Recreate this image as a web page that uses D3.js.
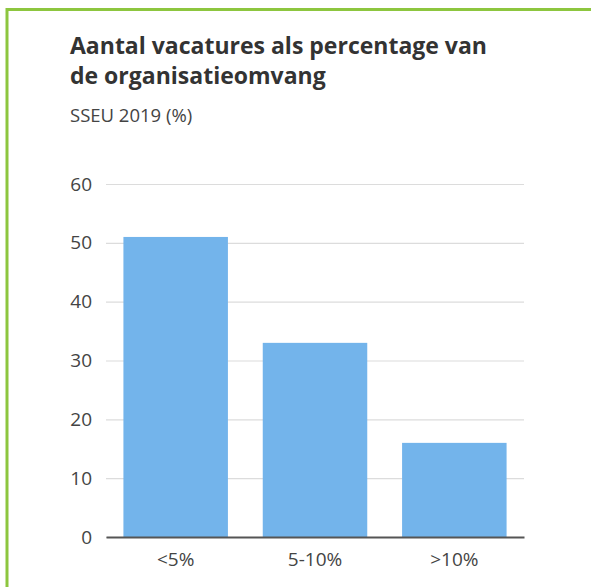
<!DOCTYPE html>
<html>
<head>
<meta charset="utf-8">
<script src="https://cdn.jsdelivr.net/npm/d3@7"></script>
<style>
    html, body { margin: 0; padding: 0; background: #fff; }
    svg { display: block; font-family: "Open Sans", sans-serif; }
</style>
</head>
<body>
<svg id="chart"></svg>
<script>
// data
var categories = ["<5%", "5-10%", ">10%"];
var values = [51, 33, 16];
var yTicks = [0, 10, 20, 30, 40, 50, 60];

var width = 591;
var height = 587;
var margin = { left: 106, right: 67, top: 184, bottom: 50 };

var svg = d3.select("#chart")
    .attr("width", width)
    .attr("height", height);

// groene rand
svg.append("line")
    .attr("x1", 7).attr("x2", width)
    .attr("y1", 9.5).attr("y2", 9.5)
    .attr("stroke", "#8dc63f").attr("stroke-width", 3);
svg.append("line")
    .attr("x1", 7).attr("x2", 7)
    .attr("y1", 8).attr("y2", height)
    .attr("stroke", "#8dc63f").attr("stroke-width", 3);

// titel
var title = svg.append("text")
    .attr("x", 70)
    .attr("font-size", 23)
    .attr("font-weight", "bold")
    .attr("fill", "#333");
title.append("tspan").attr("x", 70).attr("y", 54).text("Aantal vacatures als percentage van");
title.append("tspan").attr("x", 70).attr("y", 84).text("de organisatieomvang");

svg.append("text")
    .attr("x", 70).attr("y", 122)
    .attr("font-size", 18.5)
    .attr("fill", "#444")
    .text("SSEU 2019 (%)");

// schalen
var x = d3.scaleBand()
    .domain(categories)
    .range([margin.left, width - margin.right])
    .paddingInner(0.25)
    .paddingOuter(0.125);

var y = d3.scaleLinear()
    .domain([0, 60])
    .range([537, margin.top]);

// rasterlijnen
var yAxis = svg.append("g")
    .attr("transform", "translate(" + margin.left + ",0)")
    .call(d3.axisLeft(y).tickValues(yTicks).tickSize(-(width - margin.right - margin.left)).tickPadding(14));
yAxis.select(".domain").remove();
yAxis.selectAll(".tick line").attr("stroke", "#dcdcdc").attr("stroke-width", 1.2);
yAxis.selectAll(".tick text")
    .attr("font-size", 19)
    .attr("font-family", "Open Sans, sans-serif")
    .attr("fill", "#444");

// balken
svg.selectAll(".bar")
    .data(values)
    .enter().append("rect")
    .attr("class", "bar")
    .attr("x", function(d, i) { return x(categories[i]); })
    .attr("y", function(d) { return y(d); })
    .attr("width", x.bandwidth())
    .attr("height", function(d) { return y(0) - y(d); })
    .attr("fill", "#73b4eb");

// x-as
var xAxis = svg.append("g")
    .attr("transform", "translate(0," + y(0) + ")")
    .call(d3.axisBottom(x).tickSize(0).tickPadding(16).tickSizeOuter(0));
xAxis.select(".domain").attr("stroke", "#555").attr("stroke-width", 2);
xAxis.selectAll(".tick text")
    .attr("font-size", 19)
    .attr("font-family", "Open Sans, sans-serif")
    .attr("fill", "#444");
</script>
</body>
</html>
